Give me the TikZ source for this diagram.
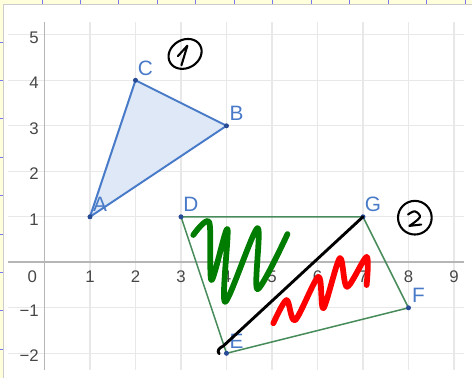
\documentclass[tikz,border=0pt]{standalone}
\usepackage{fontspec}
\setmainfont{Liberation Sans}
\usetikzlibrary{calc}
\definecolor{gridgray}{RGB}{232,232,232}
\definecolor{axisgray}{RGB}{182,182,182}
\definecolor{ticktext}{RGB}{70,70,70}
\definecolor{ptblue}{RGB}{72,122,200}
\definecolor{dotblue}{RGB}{40,75,150}
\definecolor{trifill}{RGB}{222,232,246}
\definecolor{quadgreen}{RGB}{72,140,92}
\definecolor{inkgreen}{RGB}{0,125,0}
\definecolor{inkred}{RGB}{255,0,0}
\definecolor{stripyellow}{RGB}{255,255,220}
\definecolor{stripblue}{RGB}{120,120,240}

\tikzset{
  ptlabel/.style={font=\fontsize{13}{14}\selectfont, text=ptblue, inner sep=0pt},
  ticklabel/.style={font=\fontsize{10.5}{11}\selectfont, text=ticktext, inner sep=0pt},
  ptdot/.style={fill=dotblue},
  ink/.style={line width=3.6pt, line cap=round, line join=round},
  pen/.style={line width=1.3pt, line cap=round, line join=round, black}
}

\begin{document}
\begin{tikzpicture}
  \useasboundingbox (-0.978,-2.543) rectangle (9.396,5.765);

  % Window strips
  \fill[stripyellow] (-0.978,5.677) rectangle (9.396,5.765);
  \fill[stripyellow] (-0.978,-2.543) rectangle (-0.903,5.765);
  \draw[gray!40, line width=0.4pt] (-0.903,-2.543) -- (-0.903,5.677) -- (9.396,5.677);
  \foreach \k in {0,...,11}
    \draw[stripblue, line width=0.6pt] ({-0.055+0.846*\k},5.677) -- ++(0,0.088);
  \foreach \k in {0,...,8}
    \draw[stripblue, line width=0.6pt] (-0.978,{4.842-0.844*\k}) -- ++(0.075,0);

  % Grid
  \foreach \x in {1,...,9}
    \draw[gridgray, line width=0.8pt] (\x,-2.37) -- (\x,5.29);
  \foreach \y in {-2,-1,1,2,3,4,5}
    \draw[gridgray, line width=0.8pt] (-0.8,\y) -- (9.22,\y);

  % Axes
  \draw[axisgray, line width=1.1pt] (-0.8,0) -- (9.22,0);
  \draw[axisgray, line width=1.1pt] (0,-2.37) -- (0,5.29);

  % Tick labels
  \node[ticklabel] (x0) at (-0.27,-0.31) {0};
  \foreach \x in {1,...,9}
    \node[ticklabel] (x\x) at (\x,-0.31) {\x};
  \foreach \y/\t in {-2/−2,-1/−1,1/1,2/2,3/3,4/4,5/5}
    \node[ticklabel, anchor=east] (y\y) at (-0.12,\y-0.06) {\t};

  % Points
  \coordinate (A) at (1,1);
  \coordinate (B) at (4,3);
  \coordinate (C) at (2,4);
  \coordinate (D) at (3,1);
  \coordinate (E) at (4,-2);
  \coordinate (F) at (8,-1);
  \coordinate (G) at (7,1);

  % Triangle 1
  \draw[ptblue, line width=1.2pt, fill=trifill] (A) -- (B) -- (C) -- cycle;

  % Quadrilateral 2
  \draw[quadgreen, line width=0.95pt] (D) -- (G) -- (F) -- (E) -- cycle;

  \foreach \p in {A,B,C,D,E,F,G}
    \fill[ptdot] (\p) circle (0.055);
  \foreach \p in {A,B,C,D,E,F,G}
    \node[ptlabel] (lbl\p) at ($(\p)+(0.22,0.27)$) {\p};

  % Green scribble
  \draw[ink, inkgreen] plot[smooth, tension=0.5] coordinates {
    (3.27,0.60) (3.62,0.88) (3.67,-0.39) (4.02,0.73) (3.97,-0.87)
    (4.68,0.75) (4.68,-0.59) (5.34,0.62)};

  % Red scribble
  \draw[ink, inkred] plot[smooth, tension=0.5] coordinates {
    (5.03,-1.34) (5.32,-0.83) (5.51,-1.27) (6.02,-0.32) (6.13,-1.01)
    (6.49,0.09) (6.65,-0.54) (7.08,0.12) (7.08,-0.50)};

  % Black diagonal
  \coordinate (hook) at (3.84,-2.01);
  \draw[pen, line width=1.8pt] (hook) .. controls (3.78,-1.95) and (3.84,-1.88) .. (3.93,-1.84) -- (G);

  % Circled marks
  \coordinate (c1) at (3.09,4.58);
  \draw[pen, rotate around={30:(c1)}] (c1) ellipse (0.38 and 0.31);
  \draw[pen] (2.93,4.53) -- (3.14,4.76) -- (3.01,4.33);
  \coordinate (c2) at (8.14,0.98);
  \draw[pen] (c2) circle (0.37);
  \draw[pen] plot[smooth, tension=0.6] coordinates {
    (7.99,1.05) (8.14,1.12) (8.25,0.99) (8.02,0.80)} -- (8.28,0.83);
\end{tikzpicture}
\end{document}
